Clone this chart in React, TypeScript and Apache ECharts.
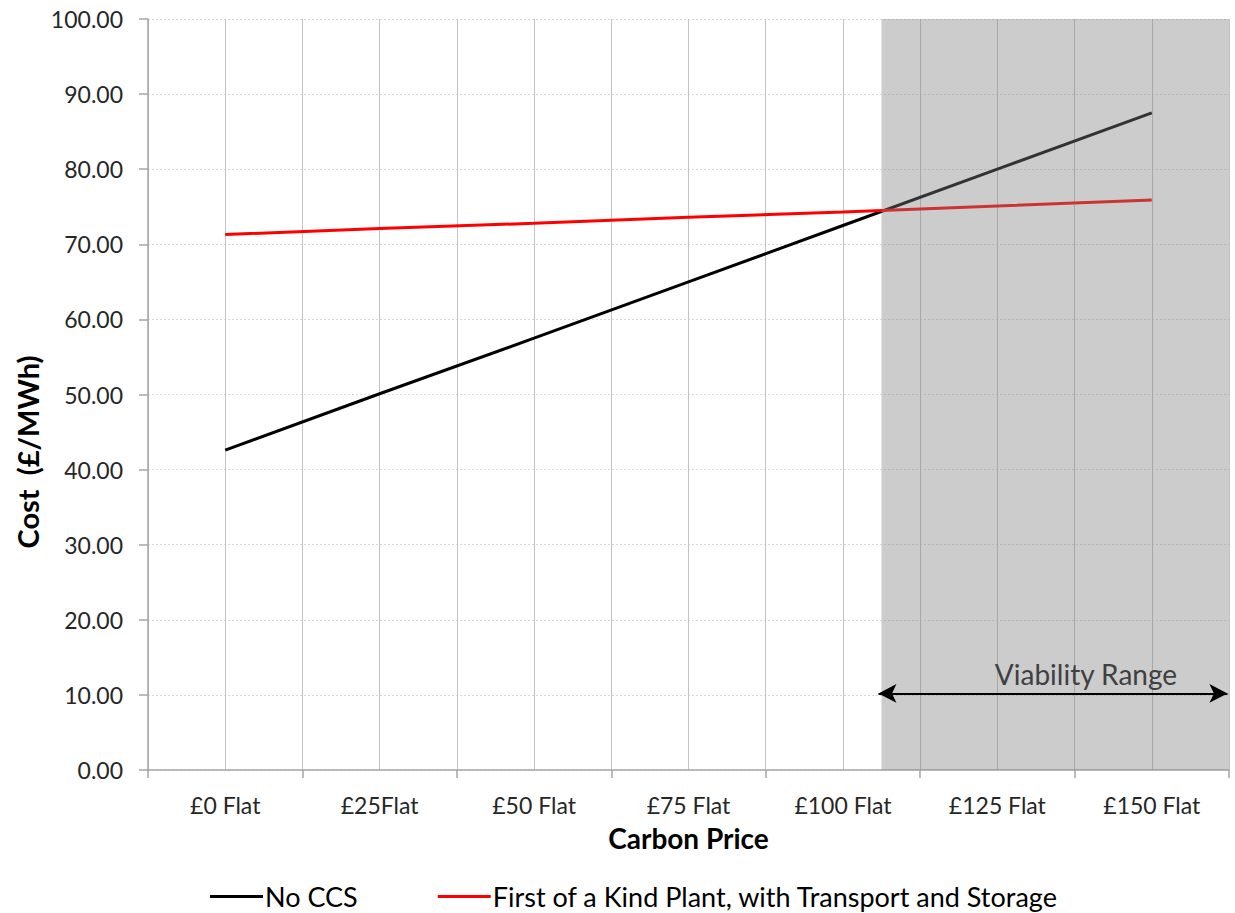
import React, { useEffect, useRef } from "react";
import * as echarts from "echarts";

const categories = ["£0 Flat", "£25Flat", "£50 Flat", "£75 Flat", "£100 Flat", "£125 Flat", "£150 Flat"];
const noCCS = [42.6, 50.1, 57.5, 65.0, 72.5, 80.0, 87.5];
const firstOfAKind = [71.3, 72.1, 72.8, 73.6, 74.3, 75.1, 75.9];
const seriesNames = ["No CCS", "First of a Kind Plant, with Transport and Storage"];
const viabilityStart = 4.25;
const viabilityEnd = 6.5;
const arrowStart = 4.23;
const arrowEnd = 6.49;
const arrowLevel = 10.2;
const viabilityLabel = "Viability Range";
const yTitle = "Cost  (£/MWh)";
const xTitle = "Carbon Price";

const FONT = "Lato, 'Open Sans', sans-serif";

export default function App() {
  const ref = useRef<HTMLDivElement>(null);
  useEffect(() => {
    if (!ref.current) return;
    const chart = echarts.init(ref.current, null, { renderer: "svg" });
    chart.setOption({
      animation: false,
      backgroundColor: "#ffffff",
      textStyle: { fontFamily: FONT },
      grid: { left: 148, right: 6, top: 19, bottom: 143, containLabel: false },
      legend: {
        left: 205,
        top: 878,
        itemWidth: 53,
        itemHeight: 3,
        itemGap: 80,
        icon: "rect",
        textStyle: { fontFamily: FONT, fontSize: 27, color: "#000", padding: [0, 0, 0, -3] },
        data: seriesNames,
      },
      xAxis: [
        {
          type: "category",
          data: categories,
          boundaryGap: true,
          name: xTitle,
          nameLocation: "middle",
          nameGap: 54,
          nameTextStyle: { fontFamily: FONT, fontSize: 28, fontWeight: "bold", color: "#000" },
          axisLine: { show: true, onZero: false, lineStyle: { color: "#a6a6a6", width: 1.5 } },
          axisTick: { show: true, length: 8, alignWithLabel: false, lineStyle: { color: "#a6a6a6", width: 1.5 } },
          axisLabel: { fontFamily: FONT, fontSize: 23, color: "#262626", margin: 23 },
          splitLine: { show: false },
        },
        {
          type: "value",
          min: -0.5,
          max: 6.5,
          interval: 0.5,
          position: "bottom",
          axisLine: { show: false, onZero: false },
          axisTick: { show: false },
          axisLabel: { show: false },
          splitLine: { show: true, lineStyle: { color: "#c4c4c4", width: 1 } },
        },
      ],
      yAxis: {
        type: "value",
        min: 0,
        max: 100,
        interval: 10,
        axisLine: { show: true, onZero: false, lineStyle: { color: "#a6a6a6", width: 1.5 } },
        axisTick: { show: true, length: 9, lineStyle: { color: "#a6a6a6", width: 1.5 } },
        axisLabel: {
          fontFamily: FONT,
          fontSize: 23,
          color: "#262626",
          margin: 25,
          formatter: (v: number) => v.toFixed(2),
        },
        splitLine: { show: true, lineStyle: { color: "#d9d9d9", width: 1, type: [2, 2] } },
      },
      graphic: [
        {
          type: "text",
          x: 27,
          y: 452,
          rotation: Math.PI / 2,
          style: {
            text: yTitle,
            font: `bold 29px ${FONT}`,
            fill: "#000",
            textAlign: "center",
            textVerticalAlign: "middle",
          },
        },
      ],
      series: [
        {
          name: seriesNames[0],
          type: "line",
          xAxisIndex: 0,
          data: noCCS,
          showSymbol: false,
          symbol: "none",
          itemStyle: { color: "#000000" },
          lineStyle: { color: "#000000", width: 3 },
          z: 1,
        },
        {
          name: seriesNames[1],
          type: "line",
          xAxisIndex: 0,
          data: firstOfAKind,
          showSymbol: false,
          symbol: "none",
          itemStyle: { color: "#ff0000" },
          lineStyle: { color: "#ff0000", width: 3 },
          z: 1,
        },
        {
          name: "shade",
          type: "line",
          xAxisIndex: 1,
          data: [],
          z: 10,
          silent: true,
          markArea: {
            silent: true,
            z: 10,
            itemStyle: { color: "rgba(128,128,128,0.4)" },
            data: [[{ xAxis: viabilityStart, yAxis: 0 }, { xAxis: viabilityEnd, yAxis: 100 }]],
          },
        },
        {
          name: "arrow",
          type: "line",
          xAxisIndex: 1,
          data: [],
          z: 20,
          silent: true,
          markLine: {
            silent: true,
            z: 20,
            symbol: ["arrow", "arrow"],
            symbolSize: [14, 18],
            lineStyle: { color: "#000", width: 2, type: "solid" },
            label: {
              show: true,
              position: "middle",
              formatter: viabilityLabel,
              fontFamily: FONT,
              fontSize: 28,
              color: "#404040",
              offset: [33, 0],
            },
            data: [[{ coord: [arrowStart, arrowLevel] }, { coord: [arrowEnd, arrowLevel] }]],
          },
        },
      ],
    });
    return () => chart.dispose();
  }, []);
  return (
    <div
      ref={ref}
      style={{ position: "absolute", left: 0, top: 0, width: 1235, height: 913 }}
    />
  );
}
